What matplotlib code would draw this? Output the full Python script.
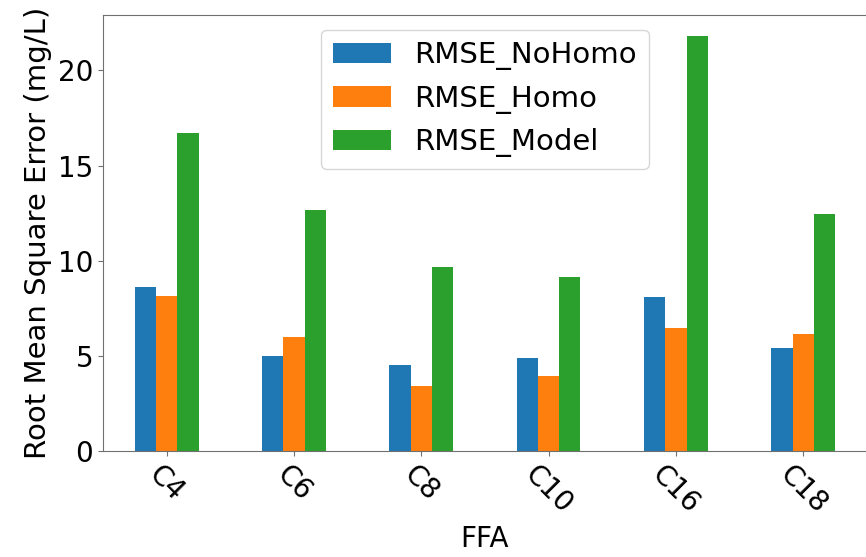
import pandas as pd
import matplotlib
matplotlib.use("Agg")
import matplotlib.pyplot as plt

# RMSE per free fatty acid for the three approaches
ffa = ["C4", "C6", "C8", "C10", "C16", "C18"]
rmse_nohomo = [8.64, 4.99, 4.50, 4.87, 8.08, 5.43]
rmse_homo = [8.15, 6.01, 3.42, 3.94, 6.48, 6.15]
rmse_model = [16.72, 12.68, 9.69, 9.12, 21.81, 12.45]

df = pd.DataFrame({
    "RMSE_NoHomo": rmse_nohomo,
    "RMSE_Homo": rmse_homo,
    "RMSE_Model": rmse_model,
}, index=ffa)

plt.rcParams["font.size"] = 20
plt.rcParams["axes.edgecolor"] = "#707070"
plt.rcParams["xtick.color"] = "#707070"
plt.rcParams["ytick.color"] = "#707070"
plt.rcParams["xtick.labelcolor"] = "black"
plt.rcParams["ytick.labelcolor"] = "black"

fig = plt.figure(figsize=(8.66, 5.57), dpi=100)
ax = fig.add_axes([0.119, 0.19, 0.882, 0.783])
df.plot(kind="bar", ax=ax, rot=-45)

ax.set_xlabel("FFA", fontsize=20)
ax.set_ylabel("Root Mean Square Error (mg/L)", fontsize=21)
ax.set_yticks([0, 5, 10, 15, 20])
ax.legend(loc="upper center", fontsize=21)

fig.savefig("out.png", dpi=100)
